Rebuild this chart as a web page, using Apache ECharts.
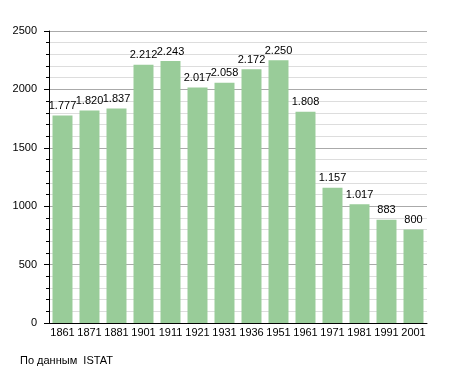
<!DOCTYPE html>
<html><head><meta charset="utf-8">
<script src="https://cdn.jsdelivr.net/npm/echarts@6/dist/echarts.min.js"></script>
<style>html,body{margin:0;padding:0;background:#fff}#c{width:455px;height:373px}</style>
</head><body><div id="c"></div>
<script>
const years = ['1861','1871','1881','1901','1911','1921','1931','1936','1951','1961','1971','1981','1991','2001'];
const population = [1777,1820,1837,2212,2243,2017,2058,2172,2250,1808,1157,1017,883,800];
const yTicks = [0,500,1000,1500,2000,2500];
const sourceText = 'По данным  ISTAT';

function fmt(v){ return String(v).replace(/\B(?=(\d{3})+(?!\d))/g,'.'); }

const chart = echarts.init(document.getElementById('c'), null, {renderer:'canvas'});
const font = 'Liberation Sans, Arial, sans-serif';
chart.setOption({
  animation:false,
  textStyle:{fontFamily:font},
  grid:{left:49,right:28,top:31,bottom:50,containLabel:false},
  graphic:[{type:'text',left:20,top:355,style:{text:sourceText,fontSize:11,fontFamily:font,fill:'#000'}}],
  xAxis:{type:'category',data:years,
    axisLine:{lineStyle:{color:'#000',width:1}},
    axisTick:{show:false},
    axisLabel:{color:'#000',fontSize:11,margin:4,interval:0}},
  yAxis:{type:'value',min:yTicks[0],max:yTicks[yTicks.length-1],interval:500,
    axisLine:{show:true,lineStyle:{color:'#000'}},
    axisTick:{show:true,length:5,lineStyle:{color:'#000'}},
    minorTick:{show:true,splitNumber:5,length:3,lineStyle:{color:'#000'}},
    splitLine:{show:true,lineStyle:{color:'#aaaaaa',width:1}},
    minorSplitLine:{show:true,lineStyle:{color:'#dddddd',width:1}},
    axisLabel:{color:'#000',fontSize:11,margin:12,formatter:v=>String(v)}},
  series:[{type:'bar',data:population,barCategoryGap:'26%',
    itemStyle:{color:'#99cc99'},
    label:{show:true,position:'top',distance:4,color:'#000',fontSize:11,formatter:p=>fmt(p.value)}}]
});
</script></body></html>
